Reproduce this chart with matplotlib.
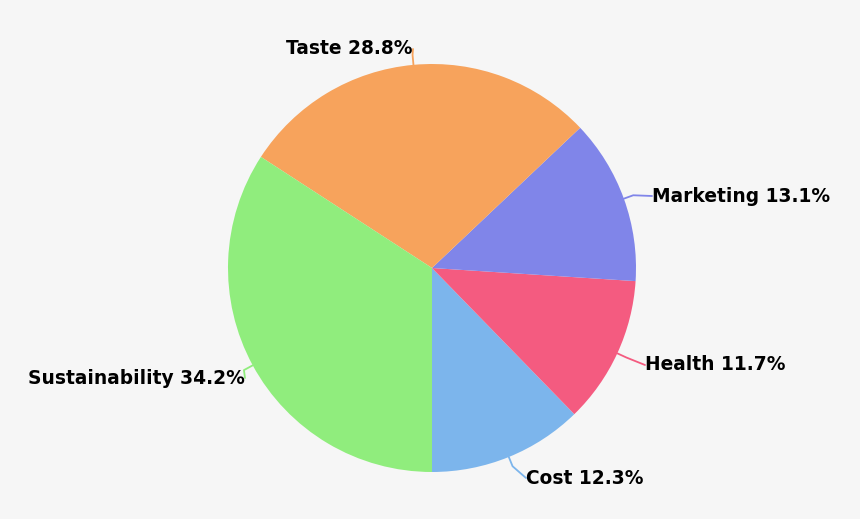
import matplotlib.pyplot as plt
import numpy as np

# slice data, counter-clockwise from 6 o'clock
categories = ['Cost', 'Health', 'Marketing', 'Taste', 'Sustainability']
shares = [12.3, 11.7, 13.1, 28.8, 34.2]
colors = ['#7cb5ec', '#f45b80', '#8085e9', '#f7a35c', '#90ed7d']

# label anchor points (pixels, y from top) and alignment
label_pos = [(526, 478, 'left'), (645, 365, 'left'), (652, 196, 'left'),
             (413, 49, 'right'), (245, 378, 'right')]

W, H = 860, 519
cx, cy, r = 432, 268, 204

fig = plt.figure(figsize=(8.6, 5.19), dpi=100)
fig.patch.set_facecolor('#f6f6f6')
ax = fig.add_axes([0, 0, 1, 1])
ax.set_facecolor('#f6f6f6')

wedges, _ = ax.pie(shares, colors=colors, startangle=-90, counterclock=True,
                   center=(cx, H - cy), radius=r,
                   wedgeprops=dict(linewidth=0))

ax.set_xlim(0, W)
ax.set_ylim(0, H)
ax.set_aspect('equal')
ax.axis('off')

total = float(sum(shares))
start = -90.0
for i, (name, val) in enumerate(zip(categories, shares)):
    ang = np.deg2rad(start + val / total * 360 / 2)
    start += val / total * 360
    ex = cx + r * np.cos(ang)
    ey = (H - cy) + r * np.sin(ang)
    mx = cx + (r + 10) * np.cos(ang)
    my = (H - cy) + (r + 10) * np.sin(ang)
    lx, ly, ha = label_pos[i]
    ly = H - ly
    ax.plot([ex, mx, lx], [ey, my, ly], color=colors[i], linewidth=1.3,
            solid_capstyle='round', zorder=1)
    ax.text(lx, ly, '%s %.1f%%' % (name, val), ha=ha, va='center',
            fontsize=13.4, fontweight='bold', color='#000000', zorder=3)

plt.savefig('out.png', dpi=100, facecolor=fig.get_facecolor())
